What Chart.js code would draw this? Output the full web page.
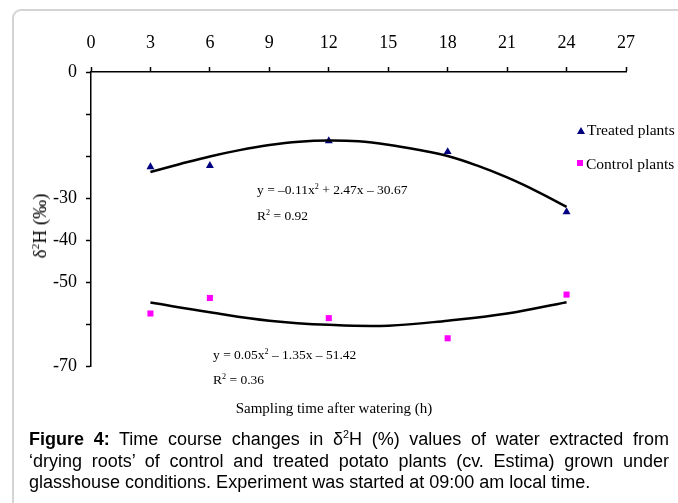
<!DOCTYPE html>
<html>
<head>
<meta charset="utf-8">
<script src="https://cdn.jsdelivr.net/npm/chart.js@4"></script>
<style>
  html, body { margin: 0; padding: 0; width: 678px; height: 503px; overflow: hidden; background: #fff; }
  #wrap { position: relative; width: 678px; height: 503px; }
  #frame { position: absolute; left: 12px; top: 9px; width: 720px; height: 600px; border: 2px solid #d4d4d4; border-radius: 9px; box-sizing: border-box; }
  canvas { position: absolute; left: 0; top: 0; }
  .serif { font-family: "Liberation Serif", "Times New Roman", serif; color: #000; position: absolute; white-space: nowrap; }
  .leg { font-size: 15.5px; line-height: 18px; }
  .tri { display: inline-block; width: 0; height: 0; border-left: 4px solid transparent; border-right: 4px solid transparent; border-bottom: 7px solid #000080; margin-right: 2px; vertical-align: 1px; }
  .sq { display: inline-block; width: 6px; height: 6px; background: #ff00ff; margin-right: 3px; vertical-align: 3px; }
  .eq { font-size: 13.5px; line-height: 16px; }
  .cap { position: absolute; left: 29px; width: 640px; font-family: "Liberation Sans", Arial, sans-serif; font-size: 18px; line-height: 21.5px; color: #000; }
  .cap div { text-align: justify; text-align-last: justify; white-space: nowrap; }
  .cap div.last { text-align-last: left; }
  sup { font-size: 0.6em; line-height: 0; }
</style>
</head>
<body>
<div id="wrap">
  <div id="frame"></div>
  <canvas id="c" width="678" height="503"></canvas>

  <div class="serif leg" style="left:577px; top:121px;"><span class="tri"></span>Treated plants</div>
  <div class="serif leg" style="left:577px; top:155px;"><span class="sq"></span>Control plants</div>

  <div class="serif eq" style="left:257px; top:182px;">y = –0.11x<sup>2</sup> + 2.47x – 30.67</div>
  <div class="serif eq" style="left:257px; top:208px;">R<sup>2</sup> = 0.92</div>
  <div class="serif eq" style="left:213px; top:347px;">y = 0.05x<sup>2</sup> – 1.35x – 51.42</div>
  <div class="serif eq" style="left:213px; top:372px;">R<sup>2</sup> = 0.36</div>

  <div class="serif" style="left:40px; top:226px; font-size:19px; transform: translate(-50%,-50%) rotate(-90deg);">δ<sup>2</sup>H (‰)</div>
  <div class="serif" style="left:334px; top:408px; font-size:15px; transform: translate(-50%,-50%);">Sampling time after watering (h)</div>

  <div class="cap" style="top:429px;">
    <div><b>Figure 4:</b> Time course changes in δ<sup>2</sup>H (%) values of water extracted from</div>
    <div>‘drying roots’ of control and treated potato plants (cv. Estima) grown under</div>
    <div class="last">glasshouse conditions. Experiment was started at 09:00 am local time.</div>
  </div>
</div>
<script>
// ---- data ----
const sampleHours = [3, 6, 12, 18, 24];
const treatedValues = [-22.6, -22.3, -16.4, -19.0, -33.3];
const controlValues = [-57.5, -53.8, -58.6, -63.4, -53.0];

// fitted trend curves as drawn in the reference
const treatedTrendHours = [3, 4.5, 6, 7.5, 9, 10.5, 12, 13.5, 15, 16.5, 18, 19.5, 21, 22.5, 24];
const treatedTrend = [-23.8, -21.9, -20.1, -18.6, -17.4, -16.6, -16.3, -16.5, -17.3, -18.5, -20.0, -22.3, -25.1, -28.4, -32.1];
const controlTrendHours = [3, 6, 9, 12, 15, 18, 21, 24];
const controlTrend = [-54.9, -57.2, -59.2, -60.2, -60.4, -59.2, -57.5, -54.8];

const xTicks = [0, 3, 6, 9, 12, 15, 18, 21, 24, 27];
const yTickLabels = { "0": "0", "-30": "-30", "-40": "-40", "-50": "-50", "-70": "-70" };

const pts = (xs, ys) => xs.map((x, i) => ({ x: x, y: ys[i] }));

const serif = "'Liberation Serif', 'Times New Roman', serif";

new Chart(document.getElementById('c'), {
  type: 'scatter',
  data: {
    datasets: [
      { label: 'Treated trend', data: pts(treatedTrendHours, treatedTrend), showLine: true, borderColor: '#000', borderWidth: 2.5, pointRadius: 0, tension: 0.4, fill: false },
      { label: 'Control trend', data: pts(controlTrendHours, controlTrend), showLine: true, borderColor: '#000', borderWidth: 2.5, pointRadius: 0, tension: 0.4, fill: false },
      { label: 'Treated plants', data: pts(sampleHours, treatedValues), pointStyle: 'triangle', pointRadius: 4.6, backgroundColor: '#000080', borderColor: '#000080', borderWidth: 0 },
      { label: 'Control plants', data: pts(sampleHours, controlValues), pointStyle: 'rect', pointRadius: 4.3, backgroundColor: '#ff00ff', borderColor: '#ff00ff', borderWidth: 0 }
    ]
  },
  options: {
    responsive: false,
    animation: false,
    devicePixelRatio: 1,
    layout: { padding: { left: 0, top: 0, right: 52, bottom: 137 } },
    plugins: { legend: { display: false }, tooltip: { enabled: false } },
    scales: {
      x: {
        type: 'linear', position: 'top', min: 0, max: 27,
        afterBuildTicks: (s) => { s.ticks = xTicks.map(v => ({ value: v })); },
        afterFit: (s) => { s.height = 72; },
        grid: { drawOnChartArea: false, drawTicks: true, tickLength: 5, tickColor: '#000', tickWidth: 1.5 },
        border: { display: true, color: '#000', width: 1.5 },
        ticks: { color: '#000', font: { family: serif, size: 18 }, padding: 13, maxRotation: 0, autoSkip: false }
      },
      y: {
        type: 'linear', position: 'left', min: -70, max: 0,
        ticks: { stepSize: 10, color: '#000', font: { family: serif, size: 18 }, padding: 9,
                 callback: (v) => (yTickLabels[String(v)] !== undefined ? yTickLabels[String(v)] : '') },
        afterFit: (s) => { s.width = 91; },
        grid: { drawOnChartArea: false, drawTicks: true, tickLength: 5, tickColor: '#000', tickWidth: 1.5 },
        border: { display: true, color: '#000', width: 1.5 }
      }
    }
  }
});
</script>
</body>
</html>
